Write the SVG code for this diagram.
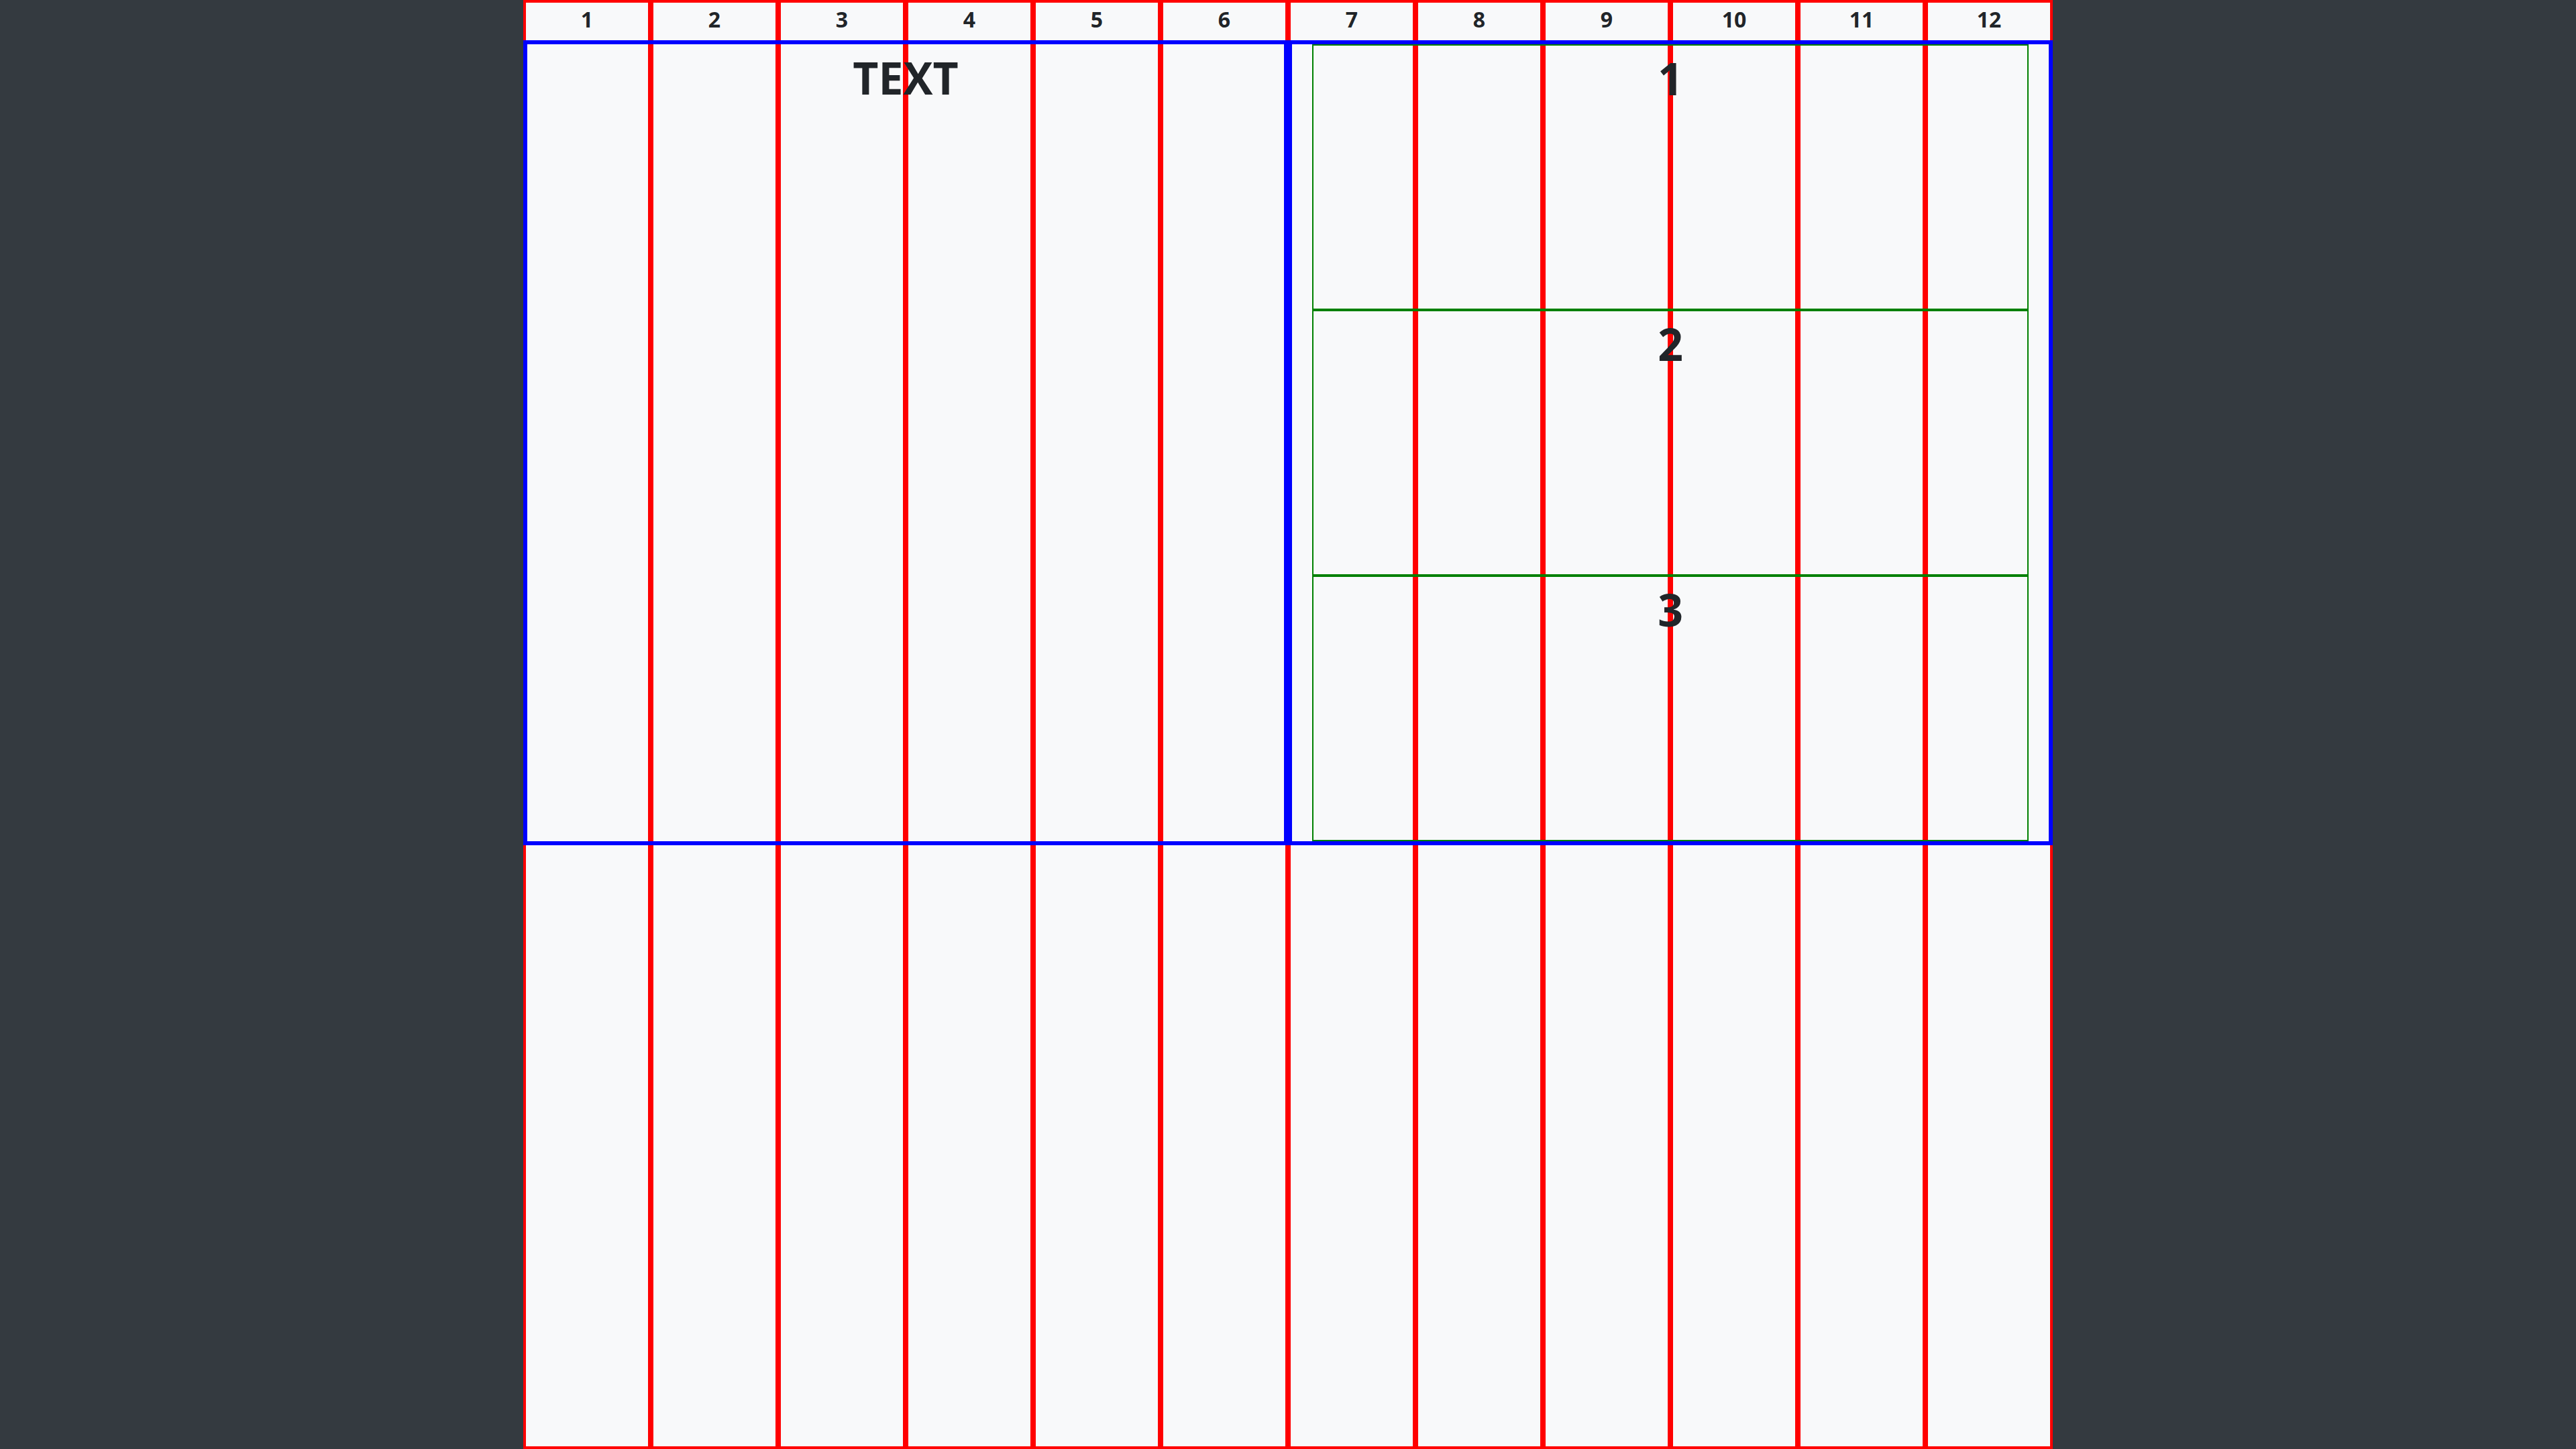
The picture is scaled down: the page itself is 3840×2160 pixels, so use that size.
<svg xmlns="http://www.w3.org/2000/svg" width="3840" height="2160" viewBox="0 0 3840 2160">
<style>
.col{fill:none;stroke:#ff0000;stroke-width:4}
.box{fill:none;stroke:#0000ff;stroke-width:6}
.cell{fill:none;stroke:#008000;stroke-width:2}
.hd{font-family:"Open Sans","Noto Sans","Liberation Sans",sans-serif;font-weight:700;font-size:32px;fill:#212529;text-anchor:middle}
.lb{font-family:"Open Sans","Noto Sans","Liberation Sans",sans-serif;font-weight:700;font-size:66px;fill:#212529;text-anchor:middle}
</style>
<rect x="0" y="0" width="3840" height="2160" fill="#343a40"/>
<rect x="780" y="0" width="2280" height="2160" fill="#f8f9fa"/>
<g id="columns">
<rect class="col" x="782" y="2" width="186" height="2156"/>
<rect class="col" x="972" y="2" width="186" height="2156"/>
<rect class="col" x="1162" y="2" width="186" height="2156"/>
<rect class="col" x="1352" y="2" width="186" height="2156"/>
<rect class="col" x="1542" y="2" width="186" height="2156"/>
<rect class="col" x="1732" y="2" width="186" height="2156"/>
<rect class="col" x="1922" y="2" width="186" height="2156"/>
<rect class="col" x="2112" y="2" width="186" height="2156"/>
<rect class="col" x="2302" y="2" width="186" height="2156"/>
<rect class="col" x="2492" y="2" width="186" height="2156"/>
<rect class="col" x="2682" y="2" width="186" height="2156"/>
<rect class="col" x="2872" y="2" width="186" height="2156"/>
</g>
<g id="left-box">
<rect class="box" x="783" y="63" width="1134" height="1194"/>
</g>
<g id="right-box">
<rect class="box" x="1923" y="63" width="1134" height="1194"/>
</g>
<g id="cell-1"><rect class="cell" x="1957" y="67" width="1066" height="394"/></g>
<g id="cell-2"><rect class="cell" x="1957" y="463" width="1066" height="394"/></g>
<g id="cell-3"><rect class="cell" x="1957" y="859" width="1066" height="394"/></g>
<g id="headers">
<text class="hd" x="875" y="41">1</text>
<text class="hd" x="1065" y="41">2</text>
<text class="hd" x="1255" y="41">3</text>
<text class="hd" x="1445" y="41">4</text>
<text class="hd" x="1635" y="41">5</text>
<text class="hd" x="1825" y="41">6</text>
<text class="hd" x="2015" y="41">7</text>
<text class="hd" x="2205" y="41">8</text>
<text class="hd" x="2395" y="41">9</text>
<text class="hd" x="2585" y="41">10</text>
<text class="hd" x="2775" y="41">11</text>
<text class="hd" x="2965" y="41">12</text>
</g>
<g id="labels">
<text class="lb" x="1350" y="141">TEXT</text>
<text class="lb" x="2490" y="142">1</text>
<text class="lb" x="2490" y="538">2</text>
<text class="lb" x="2490" y="934">3</text>
</g>
<g id="connectors"></g>
</svg>
